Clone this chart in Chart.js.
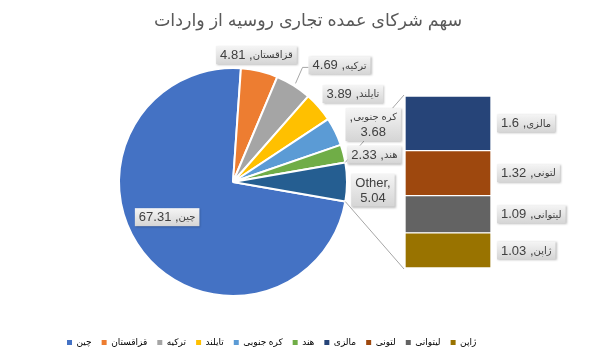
<!DOCTYPE html>
<html lang="fa">
<head>
<meta charset="utf-8">
<script src="https://cdn.jsdelivr.net/npm/chart.js@4"></script>
<style>
html, body { margin: 0; padding: 0; background: #fff; }
#wrap { position: relative; width: 616px; height: 359px; }
#wrap canvas { position: absolute; left: 0; top: 0; }
</style>
</head>
<body>
<div id="wrap">
  <canvas id="frame" width="616" height="359"></canvas>
  <canvas id="pie" width="616" height="359"></canvas>
  <canvas id="bar" width="616" height="359"></canvas>
</div>
<script>
/* ── Data ─────────────────────────────────────────────────────────────── */
const titleText = 'سهم شرکای عمده تجاری روسیه از واردات';
const pieLabels = ['چین', 'قزاقستان', 'ترکیه', 'تایلند', 'کره جنوبی', 'هند', 'Other'];
const pieValues = [67.31, 4.81, 4.69, 3.89, 3.68, 2.33, 5.04];
const pieColors = ['#4472C4', '#ED7D31', '#A5A5A5', '#FFC000', '#5B9BD5', '#70AD47', '#255E91'];
const barLabels = ['مالزی', 'لتونی', 'لیتوانی', 'ژاپن'];   // top → bottom
const barValues = [1.6, 1.32, 1.09, 1.03];
const barColors = ['#264478', '#9E480E', '#636363', '#997300'];

/* ── Styling ──────────────────────────────────────────────────────────── */
const FONT = "'Liberation Sans', 'DejaVu Sans', sans-serif";
const NUM = '13px ' + FONT;
const AR = '10px ' + FONT;
// label placement per pie slice: [radius factor, dx, dy, leader line]
const pieLabelPos = [
  [0.6, -12, -7, false],
  [1, -3, -16, false],
  [1, 46, -20, true],
  [1, 34, -13, false],
  [1, 38, -7, false],
  [1, 31, 1, false],
  [1, 26, 8, false],
];

const total = pieValues.reduce((a, b) => a + b, 0);
const otherIdx = pieValues.length - 1;
const rotation = 90 + (pieValues[otherIdx] / total * 360) / 2;

/* ── Title + legend frame ─────────────────────────────────────────────── */
const legendItems = pieLabels.slice(0, otherIdx).map((t, i) => ({ text: t, color: pieColors[i] }))
  .concat(barLabels.map((t, i) => ({ text: t, color: barColors[i] })));

new Chart(document.getElementById('frame'), {
  type: 'bar',
  data: { labels: [], datasets: [] },
  options: {
    responsive: false,
    animation: false,
    devicePixelRatio: 1,
    layout: { padding: { left: 57, right: 57, bottom: 2 } },
    scales: { x: { display: false }, y: { display: false } },
    plugins: {
      tooltip: { enabled: false },
      title: {
        display: true,
        text: titleText,
        color: '#595959',
        font: { size: 17.5, family: FONT, weight: 'normal' },
        padding: { top: 11, bottom: 0 },
      },
      legend: {
        position: 'bottom',
        align: 'start',
        onClick: null,
        labels: {
          color: '#595959',
          font: { size: 9, family: FONT },
          boxWidth: 5,
          boxHeight: 5,
          padding: 10,
          generateLabels: () => legendItems.map((it, i) => ({
            text: it.text, fillStyle: it.color, strokeStyle: it.color,
            lineWidth: 0, hidden: false, index: i,
          })),
        },
      },
    },
  },
});

/* ── Pie ──────────────────────────────────────────────────────────────── */
const pieChart = new Chart(document.getElementById('pie'), {
  type: 'pie',
  data: {
    labels: pieLabels,
    datasets: [{
      data: pieValues,
      backgroundColor: pieColors,
      borderColor: '#ffffff',
      borderWidth: 2,
      hoverOffset: 0,
    }],
  },
  options: {
    responsive: false,
    animation: false,
    devicePixelRatio: 1,
    rotation: rotation,
    layout: { padding: { left: 118, right: 268, top: 67, bottom: 62 } },
    plugins: { legend: { display: false }, tooltip: { enabled: false } },
  },
});

/* ── Label helpers ────────────────────────────────────────────────────── */
// a line is a list of segments drawn left to right: [text, font]
function rtlLine(name, val) {
  return [[val, NUM], [' ,', NUM], [name, AR]];
}

function lineWidth(ctx, segs) {
  return segs.reduce((s, [t, f]) => { ctx.font = f; return s + ctx.measureText(t).width; }, 0);
}

function boxSize(ctx, lines) {
  const w = Math.max(...lines.map(l => lineWidth(ctx, l))) + 8;
  return { w: w, h: lines.length * 15 + 3 };
}

function drawLabel(ctx, lines, cx, cy) {
  const { w, h } = boxSize(ctx, lines);
  const x = cx - w / 2, y = cy - h / 2;
  ctx.save();
  ctx.shadowColor = 'rgba(0,0,0,0.25)';
  ctx.shadowBlur = 2;
  ctx.shadowOffsetX = 1;
  ctx.shadowOffsetY = 1;
  const g = ctx.createLinearGradient(0, y, 0, y + h);
  g.addColorStop(0, '#f5f5f5');
  g.addColorStop(1, '#d5d5d5');
  ctx.fillStyle = g;
  ctx.fillRect(x, y, w, h);
  ctx.restore();
  ctx.save();
  ctx.fillStyle = '#404040';
  ctx.textAlign = 'left';
  ctx.textBaseline = 'middle';
  lines.forEach((segs, i) => {
    let tx = cx - lineWidth(ctx, segs) / 2;
    const ty = y + 2 + 15 * (i + 0.5);
    segs.forEach(([t, f]) => {
      ctx.font = f;
      ctx.fillText(t, tx, ty);
      tx += ctx.measureText(t).width;
    });
  });
  ctx.restore();
}

function line(ctx, pts) {
  ctx.save();
  ctx.strokeStyle = '#A6A6A6';
  ctx.lineWidth = 1;
  ctx.beginPath();
  ctx.moveTo(pts[0][0], pts[0][1]);
  pts.slice(1).forEach(p => ctx.lineTo(p[0], p[1]));
  ctx.stroke();
  ctx.restore();
}

const overlay = {
  id: 'overlay',
  afterDraw(chart) {
    const ctx = chart.ctx;
    const arcs = pieChart.getDatasetMeta(0).data;
    const other = arcs[otherIdx];
    const barTop = chart.getDatasetMeta(chart.data.datasets.length - 1).data[0];
    const barBot = chart.getDatasetMeta(0).data[0];
    const left = barTop.x - barTop.width / 2 - 1;

    // connectors: Other slice → stacked bar
    line(ctx, [[other.x + other.outerRadius * Math.cos(other.startAngle),
                other.y + other.outerRadius * Math.sin(other.startAngle)],
               [left, barTop.y - 1]]);
    line(ctx, [[other.x + other.outerRadius * Math.cos(other.endAngle),
                other.y + other.outerRadius * Math.sin(other.endAngle)],
               [left, barBot.base + 1]]);

    // pie labels
    arcs.forEach((a, i) => {
      const [f, dx, dy, leader] = pieLabelPos[i];
      const mid = (a.startAngle + a.endAngle) / 2;
      const ex = a.x + a.outerRadius * f * Math.cos(mid);
      const ey = a.y + a.outerRadius * f * Math.sin(mid);
      const val = pieValues[i].toFixed(2);
      let lines;
      if (i === otherIdx) lines = [[[pieLabels[i] + ',', NUM]], [[val, NUM]]];
      else if (i === 4) lines = [[[',', NUM], [pieLabels[i], AR]], [[val, NUM]]];
      else lines = [rtlLine(pieLabels[i], val)];
      const cx = ex + dx, cy = ey + dy;
      if (leader) {
        const { w } = boxSize(ctx, lines);
        const bx = cx - w / 2;
        line(ctx, [[ex + 2, ey - 2], [bx - 6, cy + 2], [bx, cy + 2]]);
      }
      drawLabel(ctx, lines, cx, cy);
    });

    // bar labels
    chart.data.datasets.forEach((ds, d) => {
      const el = chart.getDatasetMeta(d).data[0];
      const lines = [rtlLine(ds.label, String(ds.data[0]))];
      const { w } = boxSize(ctx, lines);
      drawLabel(ctx, lines, el.x + el.width / 2 + 6 + w / 2, (el.y + el.base) / 2);
    });
  },
};

/* ── Bar (breakdown of Other) ─────────────────────────────────────────── */
const barDatasets = barLabels.map((t, i) => ({
  label: t,
  data: [barValues[i]],
  backgroundColor: barColors[i],
  borderColor: '#ffffff',
  borderWidth: 1,
  borderSkipped: false,
})).reverse();   // stack from the bottom up

new Chart(document.getElementById('bar'), {
  type: 'bar',
  data: { labels: ['Other'], datasets: barDatasets },
  options: {
    responsive: false,
    animation: false,
    devicePixelRatio: 1,
    layout: { padding: { left: 405, right: 125, top: 96, bottom: 91 } },
    scales: {
      x: { display: false, stacked: true },
      y: { display: false, stacked: true, min: 0, max: barValues.reduce((a, b) => a + b, 0) },
    },
    datasets: { bar: { barPercentage: 1, categoryPercentage: 1 } },
    plugins: { legend: { display: false }, tooltip: { enabled: false } },
  },
  plugins: [overlay],
});
</script>
</body>
</html>
